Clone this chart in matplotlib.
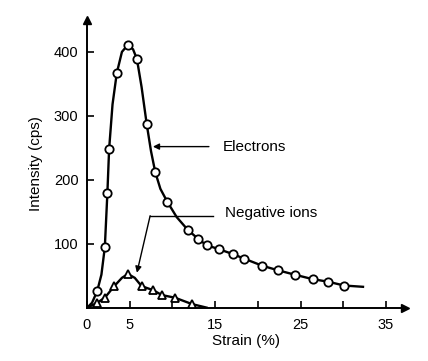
import matplotlib.pyplot as plt

plt.rcParams["font.family"] = ["Liberation Sans", "DejaVu Sans"]

# electrons (circles)
el_strain = [1.2, 2.1, 2.4, 2.6, 3.5, 4.8, 5.85, 7.0, 8.0, 9.4, 11.8, 13.0, 14.0,
             15.4, 17.1, 18.4, 20.5, 22.3, 24.3, 26.4, 28.2, 30.1]
el_int = [26, 95, 180, 248, 367, 411, 389, 287, 212, 166, 122, 108, 98,
          92, 84, 77, 66, 59, 52, 45, 41, 35]
# the drawn curve (passes through the circles)
el_line_x = [0, 0.6, 1.2, 1.7, 2.1, 2.4, 2.6, 3.0, 3.5, 4.1, 4.8, 5.4, 5.85,
             6.4, 7.0, 7.5, 8.0, 8.6, 9.4, 10.5, 11.8, 13.0, 14.0, 15.4, 17.1,
             18.4, 20.5, 22.3, 24.3, 26.4, 28.2, 30.1, 32.3]
el_line_y = [0, 8, 26, 52, 95, 180, 248, 318, 367, 400, 411, 404, 389,
             345, 287, 245, 212, 186, 166, 142, 122, 108, 98, 92, 84,
             77, 66, 59, 52, 45, 41, 35, 33]

# negative ions (triangles)
ion_strain = [1.2, 2.1, 3.2, 4.8, 6.4, 7.7, 8.8, 10.3, 12.3]
ion_int = [8, 16, 34, 53, 34, 28, 20, 16, 6]
ion_line_x = [0, 1.2, 2.1, 3.2, 4.1, 4.8, 5.6, 6.4, 7.7, 8.8, 10.3, 12.3, 14.0]
ion_line_y = [0, 8, 16, 34, 47, 53, 47, 34, 28, 20, 16, 6, 0.5]

xticks = [5, 10, 15, 20, 25, 30, 35]
xticklabels = ["5", "", "15", "", "25", "", "35"]
yticks = [100, 200, 300, 400]

fig = plt.figure(figsize=(4.28, 3.61), dpi=100)
ax = fig.add_axes([0.203, 0.147, 0.743, 0.798])

ax.plot(el_line_x, el_line_y, color="black", lw=1.7, zorder=2)
ax.plot(el_strain, el_int, "o", ms=6, mfc="white", mec="black", mew=1.3, zorder=3)
ax.plot(ion_line_x, ion_line_y, color="black", lw=1.7, zorder=2)
ax.plot(ion_strain, ion_int, "^", ms=6, mfc="white", mec="black", mew=1.3, zorder=3)

# labels with arrows
ax.annotate("", xy=(7.4, 252), xytext=(14.6, 252),
            arrowprops=dict(arrowstyle="-|>", color="black", lw=1.0, mutation_scale=9))
ax.text(15.9, 252, "Electrons", fontsize=11, va="center", ha="left")
ax.plot([7.4, 14.7], [144, 144], color="black", lw=1.0)
ax.annotate("", xy=(5.85, 55), xytext=(7.4, 144),
            arrowprops=dict(arrowstyle="-|>", color="black", lw=1.0, mutation_scale=9,
                            shrinkA=0, shrinkB=0))
ax.text(16.1, 148, "Negative ions", fontsize=11, va="center", ha="left")

ax.set_xlim(0, 37.2)
ax.set_ylim(0, 450)
ax.spines["top"].set_visible(False)
ax.spines["right"].set_visible(False)
ax.spines["left"].set_linewidth(1.4)
ax.spines["bottom"].set_linewidth(1.4)
# arrow heads on the axes
ax.plot(1, 0, ">", color="black", ms=6, transform=ax.get_yaxis_transform(), clip_on=False)
ax.plot(0, 1, "^", color="black", ms=6, transform=ax.get_xaxis_transform(), clip_on=False)

ax.set_xticks([0] + xticks)
ax.set_xticklabels(["0"] + xticklabels)
ax.set_yticks(yticks)
ax.tick_params(direction="in", length=5, width=1.2, labelsize=10.5, pad=7)
ax.tick_params(axis="y", pad=6)
ax.set_xlabel("Strain (%)", fontsize=11, labelpad=2)
ax.set_ylabel("Intensity (cps)", fontsize=11, labelpad=8)

plt.savefig("out.png", dpi=100)
